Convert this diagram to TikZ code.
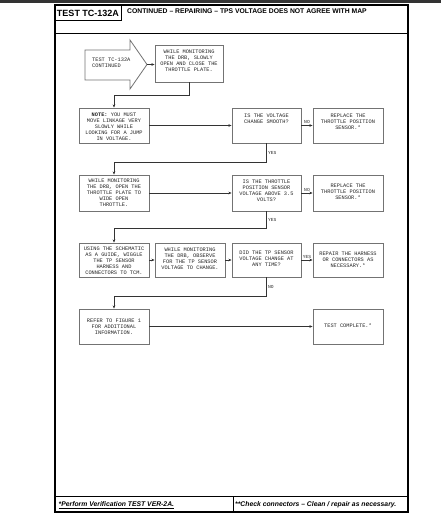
\documentclass[tikz,border=0pt]{standalone}
\usepackage{fontspec}
\setmainfont{Liberation Sans}
\newfontfamily\typew{Liberation Mono}
\usetikzlibrary{arrows.meta}
\newcommand{\btext}[3]{\parbox[c][#1][t]{#2}{\centering\typew\fontsize{5.3}{5.9}\selectfont #3\par}}
\begin{document}
\begin{tikzpicture}[x=1pt,y=-1pt,
  box/.style={draw=black!55, line width=0.8pt, inner sep=0pt, fill=white, text=black!85},
  conn/.style={draw=black!80, line width=0.6pt},
  arr/.style={conn, -{Stealth[length=3.2pt,width=2.6pt]}},
  lbl/.style={font=\typew\fontsize{4.6}{5}\selectfont, inner sep=1.2pt, text=black!85},
  frame/.style={draw=black, line width=1.1pt}]
\useasboundingbox (0,0) rectangle (441,521);
% top band
\fill[black!80] (0,0) rectangle (441,2.6);
% frame
\draw[frame] (55,5) rectangle (408,512);
\draw[frame, line width=0.8pt] (55,20.5) -- (121,20.5) -- (121,5);
\draw[frame, line width=0.8pt] (55,33) -- (408,33);
\draw[frame, line width=0.8pt] (55,496) -- (408,496);
\draw[frame, line width=0.8pt] (233,496) -- (233,512);
\node[font=\bfseries\fontsize{9}{10}\selectfont, inner sep=0pt] (ttl) at (88,13) {TEST TC-132A};
\node[font=\bfseries\fontsize{6.8}{8}\selectfont, anchor=base west, inner sep=0pt] (hdr) at (127,13.6) {CONTINUED – REPAIRING – TPS VOLTAGE DOES NOT AGREE WITH MAP};
\node[font=\bfseries\itshape\fontsize{6.8}{8}\selectfont, anchor=base west, inner sep=0pt] (fn1) at (58.5,506.5) {\underline{*Perform Verification TEST VER-2A.}};
\node[font=\bfseries\itshape\fontsize{6.8}{8}\selectfont, anchor=base west, inner sep=0pt] (fn2) at (235,506.5) {**Check connectors – Clean / repair as necessary.};

% start chevron
\draw[box] (85,50) -- (130,50) -- (130,40) -- (147,64.5) -- (130,89) -- (130,80) -- (85,80) -- cycle;
\coordinate (conttip) at (147,64.5);
\node[anchor=west, inner sep=0pt, text=black!85] (cont) at (92,62.5) {\parbox{40pt}{\typew\fontsize{5.3}{6.4}\selectfont TEST TC-132A\\CONTINUED}};

% boxes
\node[box, minimum width=68pt, minimum height=37pt] (m1) at (189,63.5) {\btext{27pt}{66pt}{WHILE MONITORING\\THE DRB, SLOWLY\\OPEN AND CLOSE THE\\THROTTLE PLATE.}};
\node[box, minimum width=70pt, minimum height=35pt] (note) at (114,125.5) {\btext{25pt}{68pt}{\textbf{NOTE:} YOU MUST\\MOVE LINKAGE VERY\\SLOWLY WHILE\\LOOKING FOR A JUMP\\IN VOLTAGE.}};
\node[box, minimum width=69pt, minimum height=35pt] (d1) at (266.5,125.5) {\btext{23pt}{67pt}{IS THE VOLTAGE\\CHANGE SMOOTH?}};
\node[box, minimum width=70pt, minimum height=35pt] (r1) at (348,125.5) {\btext{23pt}{68pt}{REPLACE THE\\THROTTLE POSITION\\SENSOR.*}};

\node[box, minimum width=70pt, minimum height=36pt] (m2) at (114,193) {\btext{28pt}{68pt}{WHILE MONITORING\\THE DRB, OPEN THE\\THROTTLE PLATE TO\\WIDE OPEN\\THROTTLE.}};
\node[box, minimum width=69pt, minimum height=36pt] (d2) at (266.5,193) {\btext{26pt}{67pt}{IS THE THROTTLE\\POSITION SENSOR\\VOLTAGE ABOVE 3.5\\VOLTS?}};
\node[box, minimum width=70pt, minimum height=36pt] (r2) at (348,193) {\btext{18pt}{68pt}{REPLACE THE\\THROTTLE POSITION\\SENSOR.*}};

\node[box, minimum width=70pt, minimum height=34pt] (u) at (114,260) {\btext{26pt}{68pt}{USING THE SCHEMATIC\\AS A GUIDE, WIGGLE\\THE TP SENSOR\\HARNESS AND\\CONNECTORS TO TCM.}};
\node[box, minimum width=70pt, minimum height=34pt] (m3) at (190,260) {\btext{24pt}{68pt}{WHILE MONITORING\\THE DRB, OBSERVE\\FOR THE TP SENSOR\\VOLTAGE TO CHANGE.}};
\node[box, minimum width=69pt, minimum height=34pt] (d3) at (266.5,260) {\btext{18pt}{67pt}{DID THE TP SENSOR\\VOLTAGE CHANGE AT\\ANY TIME?}};
\node[box, minimum width=70pt, minimum height=34pt] (r3) at (348,260) {\btext{16pt}{68pt}{REPAIR THE HARNESS\\OR CONNECTORS AS\\NECESSARY.*}};

\node[box, minimum width=70pt, minimum height=35pt] (refer) at (114,326.5) {\btext{15pt}{68pt}{REFER TO FIGURE 1\\FOR ADDITIONAL\\INFORMATION.}};
\node[box, minimum width=70pt, minimum height=35pt] (done) at (348,326.5) {\btext{6pt}{68pt}{TEST COMPLETE.*}};

% connectors
\draw[arr] (conttip) -- (m1.west |- conttip);
\draw[arr] (m1.south) -- ++(0,13) -| (note.north);
\draw[arr] (note.east) -- (d1.west);
\draw[arr] (d1.east) -- node[lbl, above]{NO} (r1.west);
\draw[arr] (d1.south) -- node[lbl, right, pos=0.5]{YES} ++(0,19) -| (m2.north);
\draw[arr] (m2.east) -- (d2.west);
\draw[arr] (d2.east) -- node[lbl, above]{NO} (r2.west);
\draw[arr] (d2.south) -- node[lbl, right, pos=0.5]{YES} ++(0,17) -| (u.north);
\draw[arr] (u.east) -- (m3.west);
\draw[arr] (m3.east) -- (d3.west);
\draw[arr] (d3.east) -- node[lbl, above]{YES} (r3.west);
\draw[arr] (d3.south) -- node[lbl, right, pos=0.5]{NO} ++(0,19) -| (refer.north);
\draw[arr] (refer.east) -- (done.west);
\end{tikzpicture}
\end{document}
